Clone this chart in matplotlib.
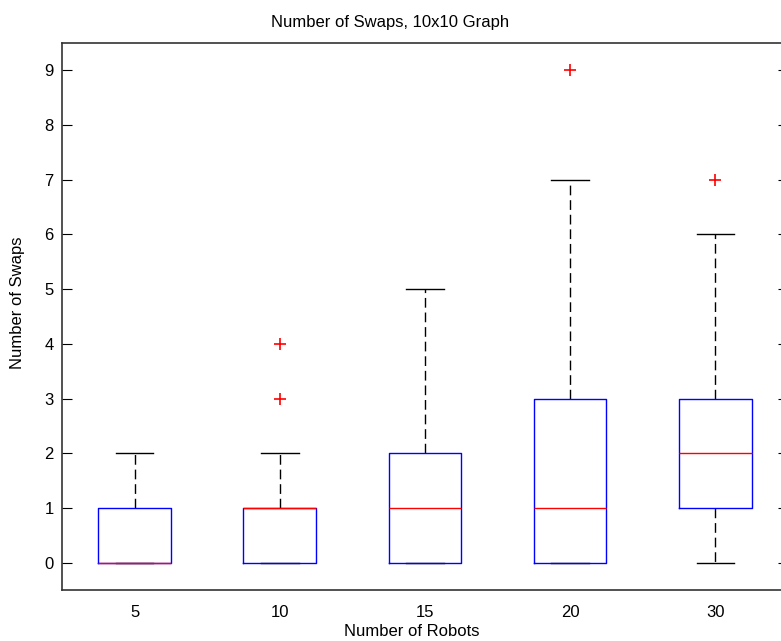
import matplotlib
matplotlib.use('Agg')
import matplotlib.pyplot as plt

plt.rcParams['font.family'] = ['Liberation Sans', 'DejaVu Sans']

robots = ['5', '10', '15', '20', '30']
q1 = [0, 0, 0, 0, 1]
med = [0, 1, 1, 1, 2]
q3 = [1, 1, 2, 3, 3]
whis_lo = [0, 0, 0, 0, 0]
whis_hi = [2, 2, 5, 7, 6]
outliers = [[], [3, 4], [], [9], [7]]

stats = []
for i in range(len(robots)):
    stats.append({'label': robots[i], 'q1': q1[i], 'med': med[i], 'q3': q3[i],
                  'whislo': whis_lo[i], 'whishi': whis_hi[i], 'fliers': outliers[i]})

fig = plt.figure(figsize=(7.81, 6.41), dpi=100)
ax = fig.add_axes([62 / 781, 51 / 641, 726 / 781, 547 / 641])

ax.bxp(stats, positions=[1, 2, 3, 4, 5], widths=0.5,
       boxprops=dict(color='blue', linewidth=1, zorder=3),
       medianprops=dict(color='red', linewidth=1, zorder=4),
       whiskerprops=dict(color='black', linewidth=1, linestyle=(0, (7, 3.5)), zorder=2),
       capprops=dict(color='black', linewidth=1, zorder=2),
       capwidths=0.26,
       flierprops=dict(marker='+', markeredgecolor='red', markersize=9, markeredgewidth=1.2))

ax.set_xlim(0.5, 5.5)
ax.set_ylim(-0.5, 9.5)
ax.set_yticks(range(10))
ax.tick_params(axis='y', direction='in', length=7, right=True, labelsize=12, pad=6)
ax.tick_params(axis='x', length=0, labelsize=12, pad=11)
for s in ax.spines.values():
    s.set_linewidth(1.2)
    s.set_color('#333333')

fig.text(390 / 781, 1 - 22 / 641, 'Number of Swaps, 10x10 Graph', fontsize=12,
         ha='center', va='center')
fig.text(412 / 781, 1 - 632 / 641, 'Number of Robots', fontsize=12,
         ha='center', va='center')
fig.text(18 / 781, 1 - 303 / 641, 'Number of Swaps', fontsize=12,
         ha='center', va='center', rotation=90)

fig.savefig('out.png', dpi=100)
